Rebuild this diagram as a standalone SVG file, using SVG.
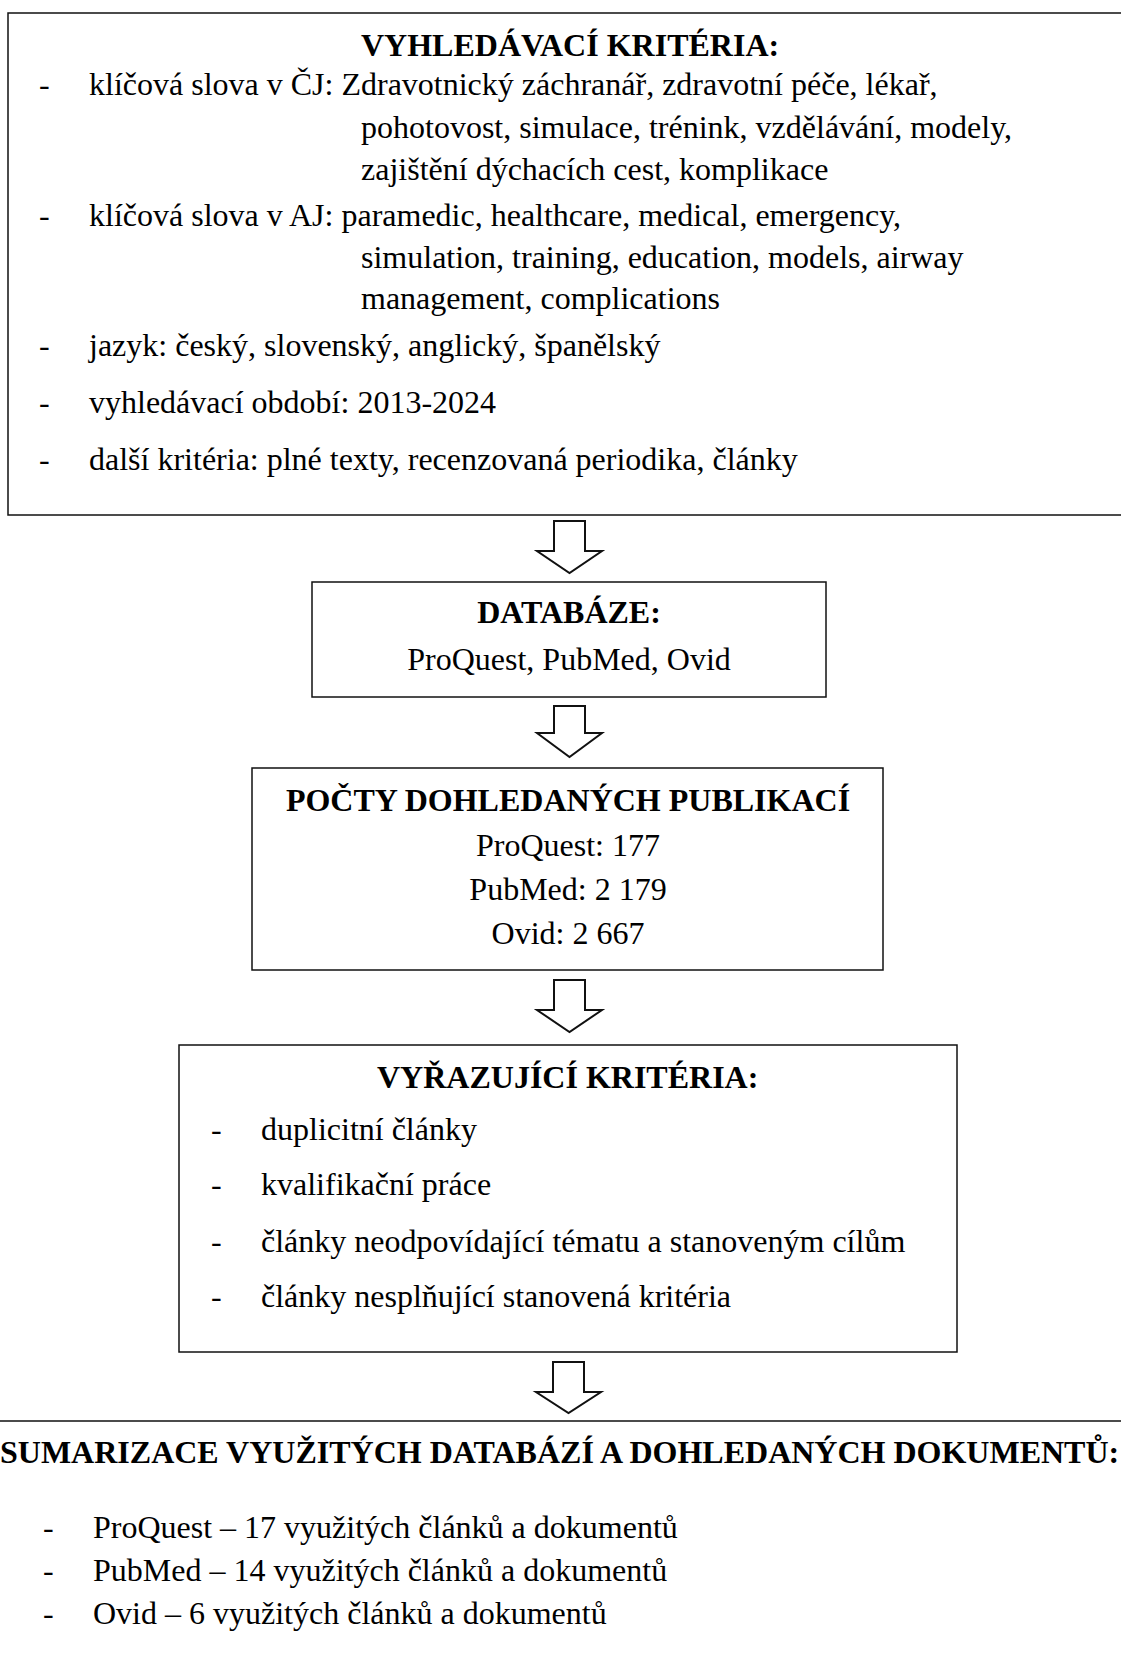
<svg xmlns="http://www.w3.org/2000/svg" width="1121" height="1657" viewBox="0 0 1121 1657">
<style>
  .box { fill: #ffffff; stroke: #111111; stroke-width: 1.5; }
  .arrow { fill: #ffffff; stroke: #111111; stroke-width: 2; stroke-linejoin: miter; }
  text { font-family: "Liberation Serif", "Times New Roman", "DejaVu Serif", serif; font-size: 32px; fill: #000000; }
  .b { font-weight: bold; }
  .c { text-anchor: middle; }
</style>
<rect x="0" y="0" width="1121" height="1657" fill="#ffffff"/>

<g id="node-vyhledavaci-kriteria">
  <rect class="box" x="8" y="13" width="1130" height="502"/>
  <text class="b" x="361" y="56">VYHLEDÁVACÍ KRITÉRIA:</text>
  <text x="39" y="95">-</text>
  <text x="89" y="95">klíčová slova v ČJ: Zdravotnický záchranář, zdravotní péče, lékař,</text>
  <text x="361" y="138">pohotovost, simulace, trénink, vzdělávání, modely,</text>
  <text x="361" y="180">zajištění dýchacích cest, komplikace</text>
  <text x="39" y="226">-</text>
  <text x="89" y="226">klíčová slova v AJ: paramedic, healthcare, medical, emergency,</text>
  <text x="361" y="268">simulation, training, education, models, airway</text>
  <text x="361" y="309">management, complications</text>
  <text x="39" y="356">-</text>
  <text x="89" y="356">jazyk: český, slovenský, anglický, španělský</text>
  <text x="39" y="413">-</text>
  <text x="89" y="413">vyhledávací období: 2013-2024</text>
  <text x="39" y="470">-</text>
  <text x="89" y="470">další kritéria: plné texty, recenzovaná periodika, články</text>
</g>

<g id="node-databaze">
  <rect class="box" x="312" y="582" width="514" height="115"/>
  <text class="b c" x="569" y="623">DATABÁZE:</text>
  <text class="c" x="569" y="670">ProQuest, PubMed, Ovid</text>
</g>

<g id="node-pocty">
  <rect class="box" x="252" y="768" width="631" height="202"/>
  <text class="b c" x="568" y="811">POČTY DOHLEDANÝCH PUBLIKACÍ</text>
  <text class="c" x="568" y="856">ProQuest: 177</text>
  <text class="c" x="568" y="900">PubMed: 2 179</text>
  <text class="c" x="568" y="944">Ovid: 2 667</text>
</g>

<g id="node-vyrazujici-kriteria">
  <rect class="box" x="179" y="1045" width="778" height="307"/>
  <text class="b" x="377" y="1088">VYŘAZUJÍCÍ KRITÉRIA:</text>
  <text x="211" y="1140">-</text>
  <text x="261" y="1140">duplicitní články</text>
  <text x="211" y="1195">-</text>
  <text x="261" y="1195">kvalifikační práce</text>
  <text x="211" y="1252">-</text>
  <text x="261" y="1252">články neodpovídající tématu a stanoveným cílům</text>
  <text x="211" y="1307">-</text>
  <text x="261" y="1307">články nesplňující stanovená kritéria</text>
</g>

<g id="node-sumarizace">
  <rect class="box" x="-10" y="1421" width="1150" height="260"/>
  <text class="b" x="0" y="1463">SUMARIZACE VYUŽITÝCH DATABÁZÍ A DOHLEDANÝCH DOKUMENTŮ:</text>
  <text x="43" y="1538">-</text>
  <text x="93" y="1538">ProQuest – 17 využitých článků a dokumentů</text>
  <text x="43" y="1581">-</text>
  <text x="93" y="1581">PubMed – 14 využitých článků a dokumentů</text>
  <text x="43" y="1624">-</text>
  <text x="93" y="1624">Ovid – 6 využitých článků a dokumentů</text>
</g>

<g id="connectors">
  <polygon class="arrow" points="554,521 585,521 585,551 602,551 569.5,573 537,551 554,551"/>
  <polygon class="arrow" points="554,706 585,706 585,733 602,733 569.5,757 537,733 554,733"/>
  <polygon class="arrow" points="554,980 585,980 585,1010 602,1010 569.5,1032 537,1010 554,1010"/>
  <polygon class="arrow" points="553,1362 584,1362 584,1392 601,1392 568.5,1413 536,1392 553,1392"/>
</g>
</svg>
